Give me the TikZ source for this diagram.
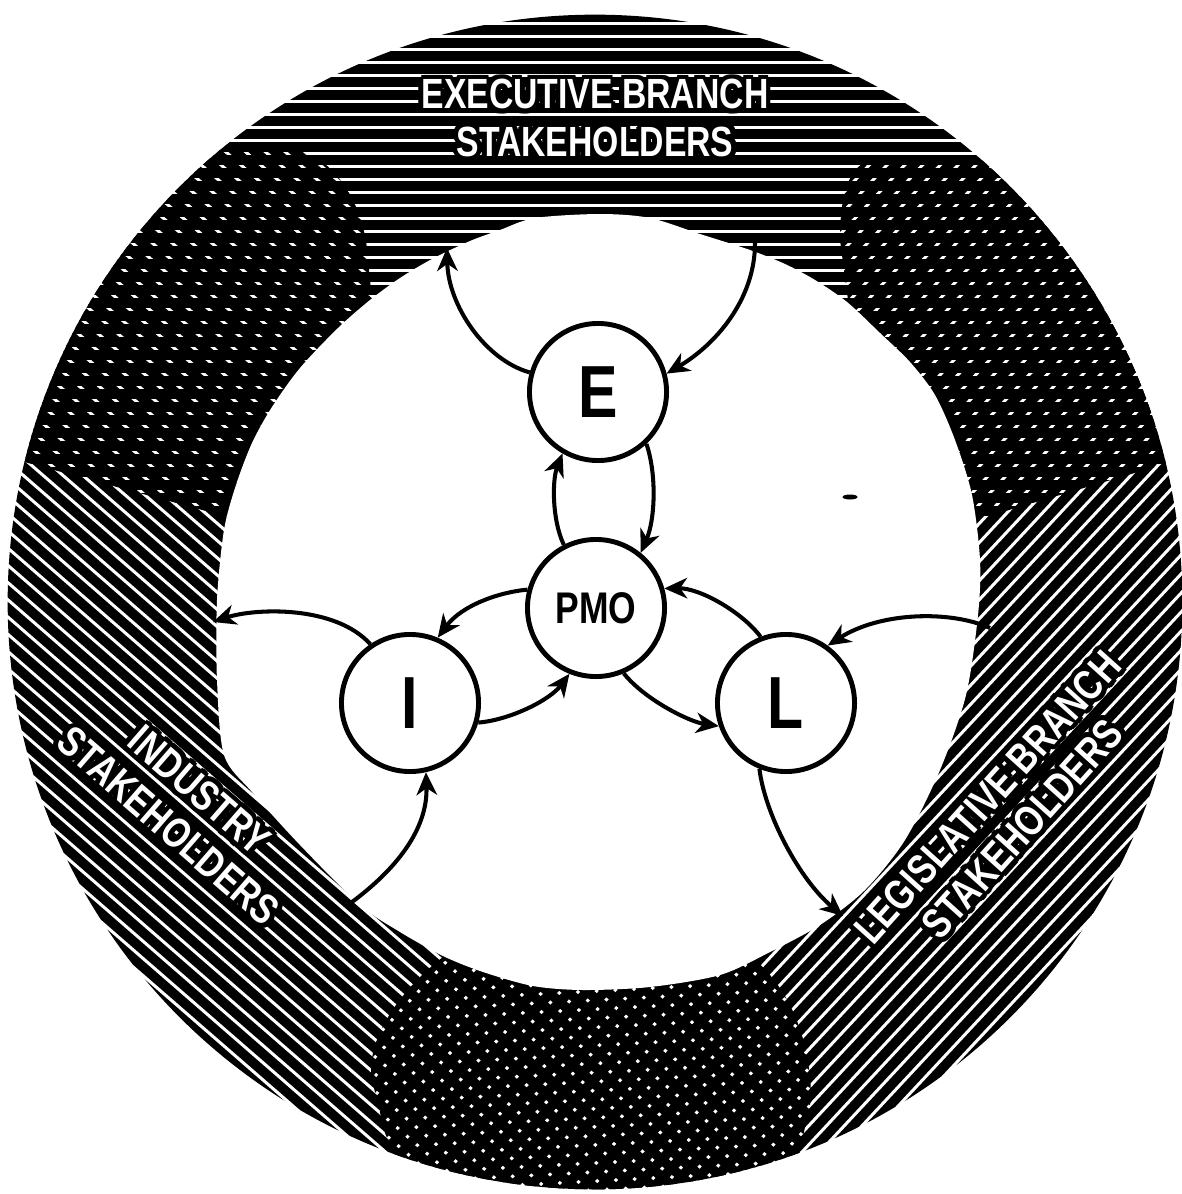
\documentclass[tikz,border=0pt]{standalone}
\usepackage{fontspec}
\setmainfont{Liberation Sans}
\newfontfamily\lbl{Liberation Sans}[FakeStretch=0.8]
\usetikzlibrary{arrows.meta}
\newcommand\haloline[1]{\leavevmode\foreach \hang in {0,30,...,330}{\rlap{\hspace*{\fpeval{1.4*cosd(\hang)}pt}\raisebox{\fpeval{1.4*sind(\hang)}pt}{\color{black}#1}}}\textcolor{white}{#1}}
\begin{document}
\begin{tikzpicture}[x=0.01cm,y=-0.01cm,
  hatch/.style={line width=2.75pt, black},
  circ/.style={circle, draw, line width=1.4pt, fill=white, minimum size=1.37cm, inner sep=0pt, font=\lbl\bfseries\fontsize{21}{21}\selectfont},
  pmo/.style={circ, font=\lbl\bfseries\fontsize{12.6}{13}\selectfont},
  arr/.style={line width=1.15pt, -{Stealth[length=6.5pt,width=5.8pt,inset=2pt]}},
  ringlbl/.style={text=white, align=center, inner sep=0pt, font=\lbl\bfseries\fontsize{12}{13.4}\selectfont}]
\fill[white] (0,0) rectangle (1181,1194);
\useasboundingbox (0,0) rectangle (1181,1194);
% ring hatching
\begin{scope}
  \clip (595,602) circle[radius=5.87cm];
  % executive: horizontal lines
  \begin{scope}
    \clip (-100,428) -- (28,463) -- (232,518) -- (595,600) -- (975,520) -- (1172,462) -- (1300,425) -- (1300,-100) -- (-100,-100) -- cycle;
    \foreach \k in {0,...,95} \draw[hatch] (-50,{4+13*\k}) -- (1250,{4+13*\k});
  \end{scope}
  % industry: \ lines
  \begin{scope}
    \clip (-100,150) -- (290,150) .. controls (330,152) and (365,200) .. (368,260) -- (372,300) -- (595,600) -- (755,960) .. controls (790,990) and (811,1040) .. (811,1100) -- (800,1150) -- (785,1300) -- (-100,1300) -- cycle;
    \begin{scope}[rotate around={-41:(595,602)}]
      \foreach \k in {-75,...,75} \draw[hatch] (-400,{602+13*\k}) -- (1600,{602+13*\k});
    \end{scope}
  \end{scope}
  % legislative: / lines
  \begin{scope}
    \clip (1300,157) -- (880,158) .. controls (850,160) and (840,190) .. (840,240) -- (848,300) -- (595,600) -- (443,957) .. controls (400,990) and (365,1040) .. (372,1080) -- (385,1133) -- (400,1170) -- (420,1300) -- (1300,1300) -- cycle;
    \begin{scope}[rotate around={47:(595,602)}]
      \foreach \k in {-75,...,75} \draw[hatch] (-400,{602+13*\k}) -- (1600,{602+13*\k});
    \end{scope}
  \end{scope}
\end{scope}
% inner white area
\fill[white] plot[smooth cycle, tension=0.5] coordinates {(600,214) (650,218) (700,234) (750,250) (785,264) (815,280) (847,302) (880,333) (910,362) (935,395) (955,440) (972,495) (980,560) (978,615) (966,695) (940,770) (905,840) (865,890) (820,925) (770,952) (720,975) (650,987) (583,990) (533,986) (483,972) (443,956) (400,932) (360,905) (300,845) (252,792) (224,755) (217,680) (217,600) (224,530) (236,485) (252,443) (272,407) (300,368) (338,328) (370,300) (400,278) (432,259) (470,241) (500,230) (535,218)};
% small mark
\fill (850,497) ellipse [x radius=0.075cm, y radius=0.025cm];
% ring labels
\node[ringlbl] (execlbl) at (595,118) {\haloline{EXECUTIVE BRANCH}\\\haloline{STAKEHOLDERS}};
\node[ringlbl, rotate=48] (leglbl) at (1005,813) {\haloline{LEGISLATIVE BRANCH}\\\haloline{STAKEHOLDERS}};
\node[ringlbl, rotate=-41] (indlbl) at (184,808) {\haloline{INDUSTRY}\\\haloline{STAKEHOLDERS}};
% circles
\node[circ] (E) at (598,392) {E};
\node[pmo] (PMO) at (596,608) {PMO};
\node[circ] (I) at (410,703) {I};
\node[circ] (L) at (786,703) {L};
% free ends
\coordinate (a1) at (447,248);
\coordinate (a2) at (755,243);
\coordinate (a9) at (213,622);
\coordinate (a10) at (352,902);
\coordinate (a11) at (990,628);
\coordinate (a12) at (843,916);
% arrows
\draw[arr] (E.164) .. controls (485,360) and (448,305) .. (a1);
\draw[arr] (a2) .. controls (755,300) and (715,345) .. (E.15);
\draw[arr] (PMO.117) .. controls (552,520) and (552,480) .. (E.240);
\draw[arr] (E.-47) .. controls (657,475) and (655,520) .. (PMO.51);
\draw[arr] (PMO.165) .. controls (500,592) and (462,605) .. (I.67);
\draw[arr] (I.-16) .. controls (510,720) and (550,700) .. (PMO.248);
\draw[arr] (PMO.-67) .. controls (645,700) and (690,722) .. (L.199);
\draw[arr] (L.111) .. controls (742,612) and (700,588) .. (PMO.16);
\draw[arr] (I.124) .. controls (335,605) and (255,608) .. (a9);
\draw[arr] (a10) .. controls (395,870) and (428,830) .. (I.-77);
\draw[arr] (a11) .. controls (950,610) and (880,612) .. (L.54);
\draw[arr] (L.-112) .. controls (765,815) and (800,880) .. (a12);
\end{tikzpicture}
\end{document}
